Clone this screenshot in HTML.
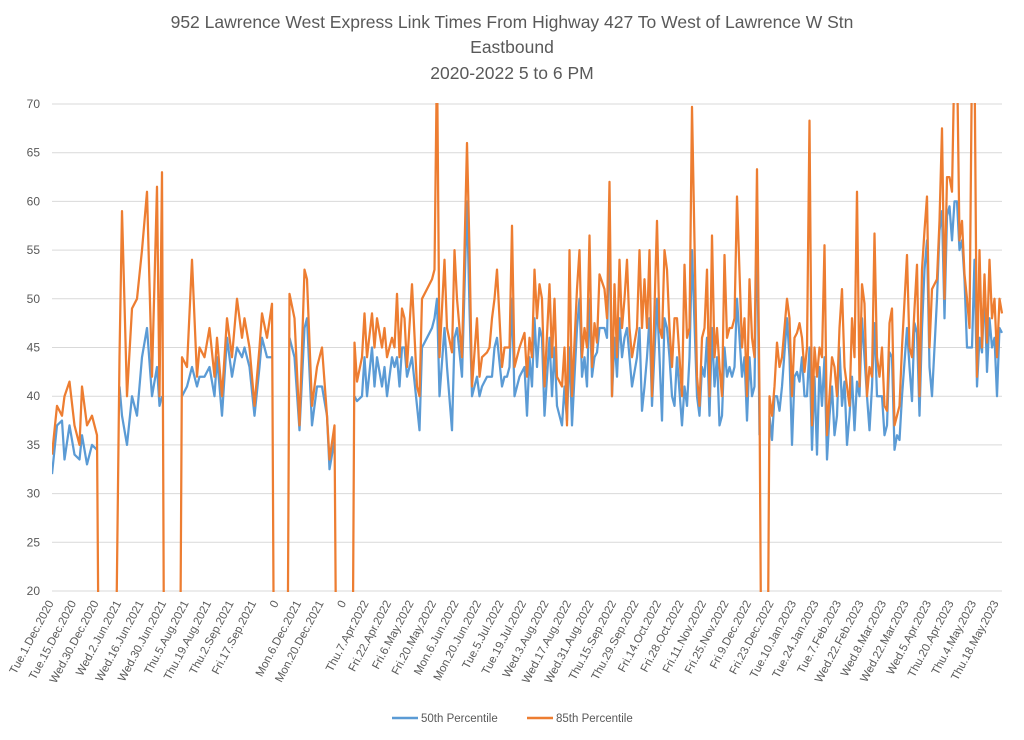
<!DOCTYPE html>
<html><head><meta charset="utf-8">
<style>
html,body{margin:0;padding:0;background:#fff;width:1024px;height:740px;overflow:hidden;}
svg{display:block;font-family:"Liberation Sans",Arial,sans-serif;}
</style></head>
<body>
<svg id="chart" width="1024" height="740" viewBox="0 0 1024 740">
<rect width="1024" height="740" fill="#fff"/>
<g fill="#595959" font-size="17.5" text-anchor="middle">
<text x="512" y="28">952 Lawrence West Express Link Times From Highway 427 To West of Lawrence W Stn</text>
<text x="512" y="53">Eastbound</text>
<text x="512" y="79">2020-2022 5 to 6 PM</text>
</g>
<defs><clipPath id="plotclip"><rect x="52" y="103" width="952" height="489"/></clipPath></defs>
<g id="grid"></g>
<g id="yticks"></g>
<g id="xticks"></g>
<g id="series" clip-path="url(#plotclip)"></g>
<g>
<g>
<line x1="392" y1="718" x2="418" y2="718" stroke="#5B9BD5" stroke-width="2.5"/>
<text x="421" y="722" font-size="11.5" fill="#595959">50th Percentile</text></g>
<g>
<line x1="527" y1="718" x2="553" y2="718" stroke="#ED7D31" stroke-width="2.5"/>
<text x="556" y="722" font-size="11.5" fill="#595959">85th Percentile</text></g>
</g>
</svg>
<script>
const obsIndex=[0,2,4,5,7,9,11,12,14,16,18,19,25,27,28,30,32,34,36,38,40,42,43,44,45,51,52,54,56,58,59,61,63,65,66,68,70,72,74,76,77,79,81,83,84,86,88,89,94,95,97,99,101,102,104,106,108,110,111,113,114,120,
121,122,124,125,126,128,129,130,132,133,134,136,137,138,139,140,141,142,144,146,147,148,150,152,153,154,155,157,158,160,161,162,164,166,167,168,170,171,172,174,175,176,177,178,180,181,182,183,184,185,187,189,190,191,192,193,194,195,196,197,199,200,201,202,204,205,206,207,208,210,211,212,213,214,215,216,217,218,219,221,222,223,224,225,226,227,228,229,230,231,232,234,235,236,237,238,239,240,242,243,244,245,246,247,248,249,250,252,253,254,255,256,258,259,260,261,262,263,264,265,266,267,268,269,270,271,272,273,274,276,277,278,279,280,281,282,283,284,286,
287,288,289,290,291,292,294,295,296,297,298,299,300,301,302,303,304,305,306,307,308,309,310,311,312,313,314,315,316,317,318,319,320,321,322,323,324,325,326,327,328,329,330,331,332,333,334,335,336,337,338,339,340,342,343,344,345,346,347,348,349,350,351,352,354,355,356,357,358,359,360,361,362,363,364,365,366,367,368,369,370,371,372,373,374,375,376,377,378,379,380];
const p85=[34,39,38,40,41.5,37,35,41,37,38,36,0,0,44,59,40,49,50,55,61,42,61.5,40,63,0,0,44,43,54,42,45,44,47,42,46,40,48,44,50,46,48,45,39,45,48.5,46,49.5,0,0,50.5,48,37,53,52,39,43,45,38,33.5,37,0,0,
45.5,41.5,44,48.5,44,48.5,45,48,45,47,44,46,45,50.5,44,49,48,43,51.5,41,40,50,51,52,53,75,44,54,47,44.5,55,50,44,66,55,41,48,42,44,44.5,45,48,50,53,43,45,45,45,57.5,43,45,46.5,42,46,44,53,48,51.5,50,41,51.5,44,50,42,41,45,37,55,40,51,55,44,47,45,56.5,43,47.5,45.5,52.5,51,48,62,40,51.5,44,54,47,50,54,47,44,47,55,47,52,47,55,40,58,47,46,55,53,47,43,48,48,40,53.5,46,47,69.7,42,39,46,47,53,40,56.5,44,47,43,40,54.5,46,47,47,48,60.5,45,48,40,52,46,44,63.3,40,0,0,
40,38,41,45.5,43,44,50,48,40,46,46.5,47.5,46,42.5,45,68.3,37,45,42,45,44,55.5,36,40,44,43,40,47,51,43,41,39,48,44,61,41,51.5,49.5,40,43,42,56.7,44,42,45,39,38.5,47.5,49,37,38,39,45,54.5,45,44,49,53.5,40,53,57,60.5,45,51,52,58,67.5,50,62.5,62.5,61,75,75,56,58,52.5,50,47,75,75,42,55,45,52.5,45.5,54,48,50,44,50,48.5];
const p50=[32,37,37.5,33.5,37,34,33.5,36,33,35,34.5,null,null,41,38,35,40,38,44,47,40,43,39,40,null,null,40,41,43,41,42,42,43,40,44,38,46,42,45,44,45,43,38,43,46,44,44,null,null,46,44,36.5,47,48,37,41,41,38,32.5,35.5,null,null,
40,39.5,40,44,40,45,41,44,41,43,40,44,43,44,41,45,45,42,44,39,36.5,45,46,47,48,50,40,47,43,36.5,46,47,42,60,49,40,42,40,41,42,42,42,45,46,41,42,42,43,50,40,42,43,38,44,41,48,43,47,46,38,46,40,45,39,37,41,37.5,45,37,47,50,42,44,41,50,42,44,44.5,47,47,46,57,40,46,42,48,44,46,47,44,41,44,47,38.5,41,44,48,39,50,44,37.5,48,47,44,40,39,44,37,41,39,44,55,40,38,43,42,46,38,47,41,44,37,38,45,42,43,42,43,50,42,44,37.5,44,40,41,59,36,null,null,
38,35.5,40,40,38.5,41,48,44,35,42,42.5,41.5,44,40,40,45,34.5,42,34,43,39,44,33.5,38,41,36,38,45,39,41.5,35,38,42,36.5,41.5,40,48,44,40,36.5,41,47.5,40,40,40,36,37,44.5,44,34.5,36,35.5,40,47,43,39.5,47.5,46.5,38,47,53,56,43,40,50,57,59,48,58.5,59.5,56,60,60,55,56,52,45,45,45,54,41,46,44.5,51,42.5,48,45,46,40,47,46.5];
const yTicks=[20,25,30,35,40,45,50,55,60,65,70];
const xLabels=["Tue.1.Dec.2020","Tue.15.Dec.2020","Wed.30.Dec.2020","Wed.2.Jun.2021","Wed.16.Jun.2021","Wed.30.Jun.2021","Thu.5.Aug.2021","Thu.19.Aug.2021","Thu.2.Sep.2021","Fri.17.Sep.2021","0","Mon.6.Dec.2021","Mon.20.Dec.2021","0","Thu.7.Apr.2022","Fri.22.Apr.2022","Fri.6.May.2022","Fri.20.May.2022","Mon.6.Jun.2022","Mon.20.Jun.2022","Tue.5.Jul.2022","Tue.19.Jul.2022","Wed.3.Aug.2022","Wed.17.Aug.2022","Wed.31.Aug.2022","Thu.15.Sep.2022","Thu.29.Sep.2022","Fri.14.Oct.2022","Fri.28.Oct.2022","Fri.11.Nov.2022","Fri.25.Nov.2022","Fri.9.Dec.2022","Fri.23.Dec.2022","Tue.10.Jan.2023","Tue.24.Jan.2023","Tue.7.Feb.2023","Wed.22.Feb.2023","Wed.8.Mar.2023","Wed.22.Mar.2023","Wed.5.Apr.2023","Thu.20.Apr.2023","Thu.4.May.2023","Thu.18.May.2023"];
const labelEvery=9;

const NS="http://www.w3.org/2000/svg";
const X0=52,X1=1002,Y20=591,Y70=104,NOBS=380;
function xs(i){return X0+i*(X1-X0)/NOBS;}
function ys(v){return Y20-(v-20)*(Y20-Y70)/50;}
const grid=document.getElementById('grid'),yt=document.getElementById('yticks'),xt=document.getElementById('xticks'),ser=document.getElementById('series');
yTicks.forEach(t=>{
  const l=document.createElementNS(NS,'line');
  l.setAttribute('x1',X0);l.setAttribute('x2',X1);l.setAttribute('y1',ys(t));l.setAttribute('y2',ys(t));
  l.setAttribute('stroke','#d9d9d9');l.setAttribute('stroke-width','1');
  
  
  grid.appendChild(l);
  const tx=document.createElementNS(NS,'text');
  tx.setAttribute('x',40);tx.setAttribute('y',ys(t)+4);tx.setAttribute('text-anchor','end');
  tx.setAttribute('font-size','12');tx.setAttribute('fill','#595959');tx.textContent=t;
  
  
  yt.appendChild(tx);
});
xLabels.forEach((s,k)=>{
  const x=xs(k*labelEvery)+2,y=603;
  const tx=document.createElementNS(NS,'text');
  tx.setAttribute('x',x);tx.setAttribute('y',y);tx.setAttribute('text-anchor','end');
  tx.setAttribute('font-size','11.5');tx.setAttribute('fill','#595959');
  tx.setAttribute('transform','rotate(-62 '+x+' '+y+')');
  tx.textContent=s;
  
  
  xt.appendChild(tx);
});
function path(vals,color,name){
  let d='',pen=false;
  vals.forEach((v,j)=>{
    if(v===null){pen=false;return;}
    const c=xs(obsIndex[j]).toFixed(1)+','+ys(v).toFixed(1);
    d+=(pen?'L':'M')+c;pen=true;
  });
  const p=document.createElementNS(NS,'path');
  p.setAttribute('d',d);p.setAttribute('fill','none');p.setAttribute('stroke',color);
  p.setAttribute('stroke-width','2.25');p.setAttribute('stroke-linejoin','round');
  
  
  ser.appendChild(p);
}
path(p50,'#5B9BD5','series-50th-percentile');
path(p85,'#ED7D31','series-85th-percentile');
</script>
</body></html>
